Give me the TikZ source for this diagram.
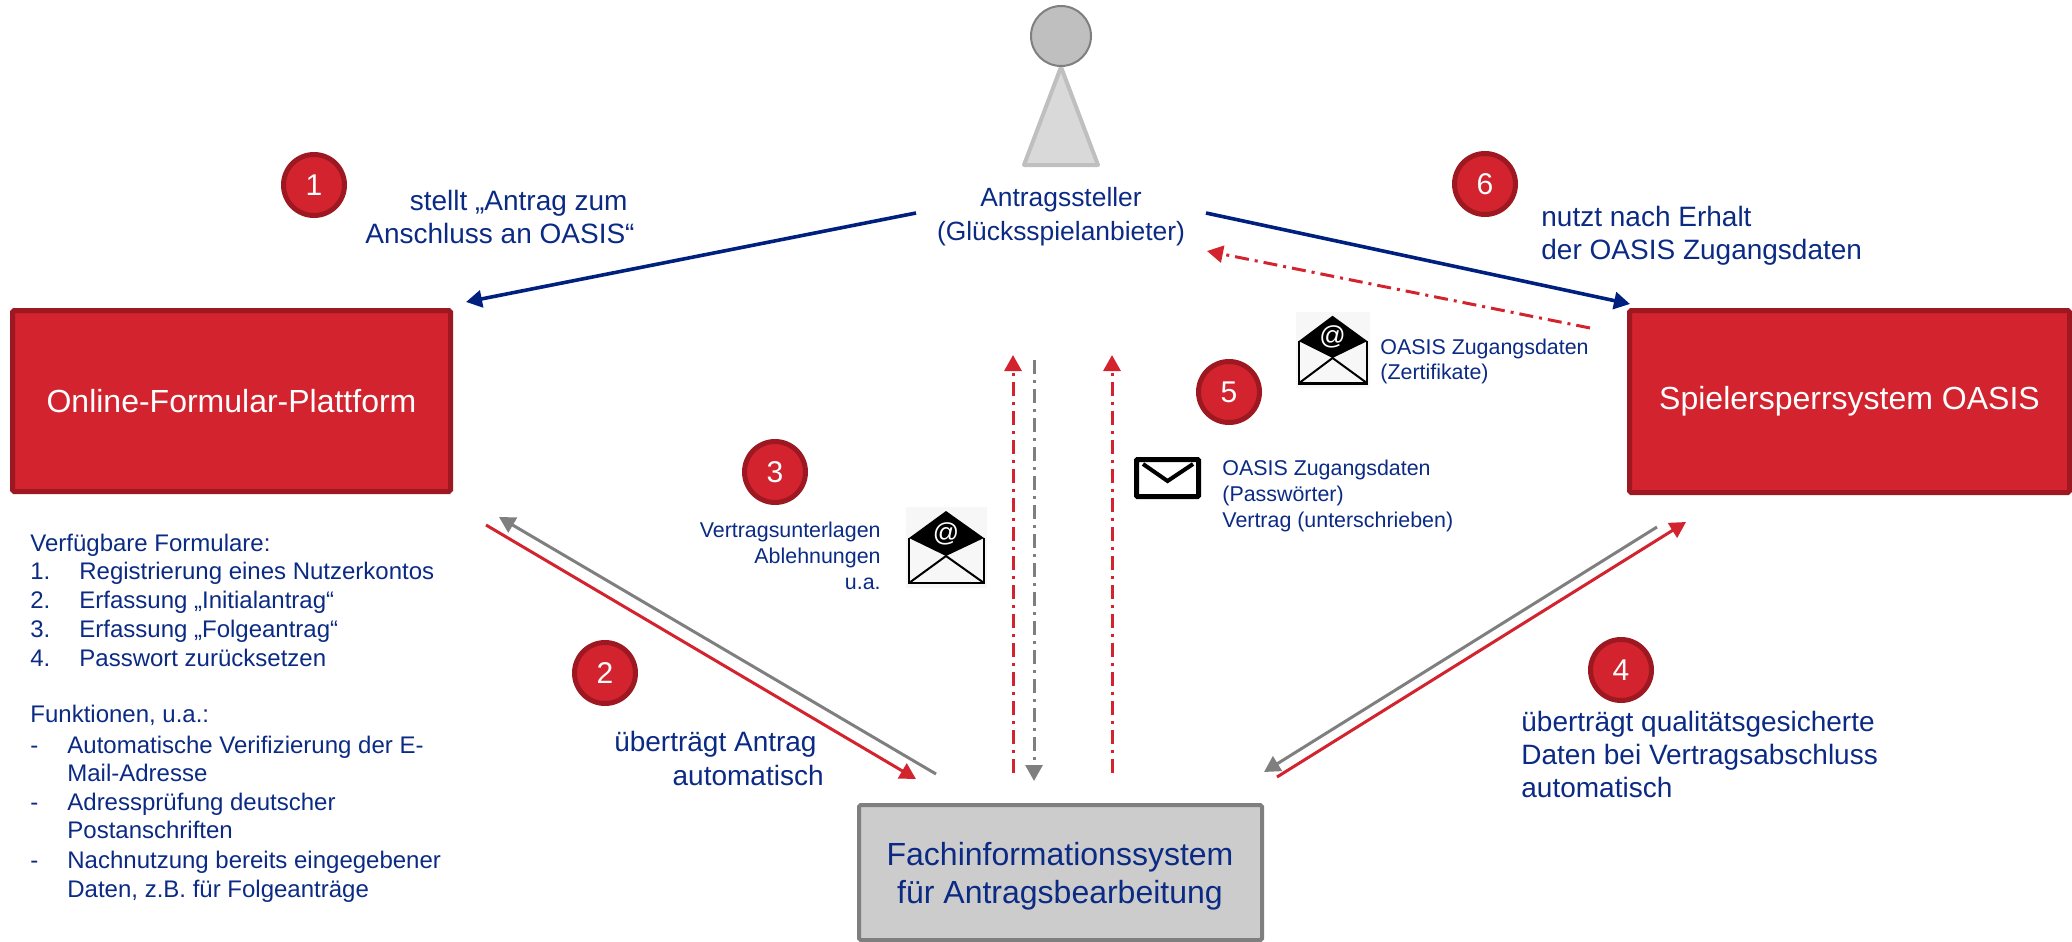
\documentclass[tikz,border=0pt]{standalone}
\usepackage{fontspec}
\setmainfont{Liberation Sans}
\usetikzlibrary{arrows.meta}
\definecolor{navy}{HTML}{00207F}
\definecolor{txtblue}{HTML}{0B2A84}
\definecolor{oasisred}{HTML}{D2232E}
\definecolor{darkred}{HTML}{9E1822}
\definecolor{midgray}{HTML}{7F7F7F}
\newcommand\fsz[1]{\fontsize{#1}{#1}\selectfont}
\newcommand\openmail[6]{% name, left, top, width, height, @ size
  \begin{scope}[shift={(#2,#3)},x=#4*0.5pt/81,y=-#5*0.5pt/81]
    \fill[mailbg] (0,0) rectangle (81,81);
    \draw[line width=1.2pt,line join=miter] (3,31) -- (3,76) -- (78,76) -- (78,31);
    \draw[line width=1pt] (3,76) -- (40,49) -- (78,76);
    \fill (40,4) -- (78,31) -- (40,49) -- (3,31) -- cycle;
    \node[inner sep=0pt,text=white,font=\fsz{#6}] (#1) at (40,27) {@};
  \end{scope}}
\tikzset{
  x=0.5pt,y=-0.5pt,
  redbox/.style={draw=darkred,fill=oasisred,line width=2.5pt,rounded corners=0.8pt,inner sep=0pt,text=white,font=\fsz{16},align=center},
  graybox/.style={draw=midgray,fill=black!20,line width=2pt,rounded corners=0.8pt,inner sep=0pt},
  badge/.style={circle,draw=darkred,fill=oasisred,line width=2.5pt,minimum size=30.5pt,inner sep=0pt,text=white,font=\fsz{15}},
  lbl/.style={inner sep=0pt,text=txtblue,font=\fsz{14},align=left,yshift=-1.5pt},
  actorlbl/.style={inner sep=0pt,text=txtblue,font=\fsz{13.2},anchor=mid,yshift=-1pt},
  small/.style={inner sep=0pt,text=txtblue,font=\fsz{10.7},align=left,yshift=-1.2pt},
  listitem/.style={inner sep=0pt,text=txtblue,font=\fsz{12},anchor=mid west,yshift=-1.5pt},
  tip/.style={-{Triangle[length=8pt,width=8.5pt]}},
  navyline/.style={tip,draw=navy,line width=1.8pt},
  redline/.style={tip,draw=oasisred,line width=1.5pt},
  grayline/.style={tip,draw=midgray,line width=1.5pt},
  dashdot/.style={dash pattern=on 7pt off 3pt on 1.5pt off 3pt},
  mailbg/.style={fill={rgb,255:red,247;green,247;blue,247}},
}
\begin{document}
\begin{tikzpicture}
\useasboundingbox (0,0) rectangle (2072,942);

% actor
\filldraw[draw=black!25,fill=black!15,line width=2pt,line join=round] (1061,67) -- (1098,165) -- (1024,165) -- cycle;
\node[circle,draw=midgray,fill=black!25,line width=1pt,minimum size=30pt,inner sep=0pt] (head) at (1061,36) {};
\node[actorlbl] (actor1) at (1061,199) {Antragssteller};
\node[actorlbl] (actor2) at (1061,233) {(Glücksspielanbieter)};

% boxes
\node[redbox,minimum width=219pt,minimum height=90.5pt] (portal) at (231.5,401) {Online-Formular-Plattform};
\node[redbox,minimum width=220pt,minimum height=91pt] (oasis) at (1849.5,401.5) {Spielersperrsystem OASIS};
\node[graybox,minimum width=201.5pt,minimum height=67.5pt] (fis) at (1060.5,872.5) {};
\node[inner sep=0pt,text=txtblue,font=\fsz{16},anchor=mid] (fis1) at (1060,860) {Fachinformationssystem};
\node[inner sep=0pt,text=txtblue,font=\fsz{16},anchor=mid] (fis2) at (1060,898) {für Antragsbearbeitung};

% connector ends
\coordinate (a1s) at (916,213);   \coordinate (a1e) at (466,302);
\coordinate (a6s) at (1206,213);  \coordinate (a6e) at (1630,304);
\coordinate (r6s) at (1590,328);  \coordinate (r6e) at (1207,251);
\coordinate (r2s) at (486,525);   \coordinate (r2e) at (916,779);
\coordinate (g2s) at (936,774);   \coordinate (g2e) at (499,517);
\coordinate (r4s) at (1277,777);  \coordinate (r4e) at (1686,522);
\coordinate (g4s) at (1657,527);  \coordinate (g4e) at (1264,772);
\coordinate (v1s) at (1013,773);  \coordinate (v1e) at (1013,355);
\coordinate (v2s) at (1112,773);  \coordinate (v2e) at (1112,355);
\coordinate (v3s) at (1034,360);  \coordinate (v3e) at (1034,781);

\draw[navyline] (a1s) -- (a1e);
\draw[navyline] (a6s) -- (a6e);
\draw[redline,dashdot] (r6s) -- (r6e);
\draw[redline] (r2s) -- (r2e);
\draw[grayline] (g2s) -- (g2e);
\draw[redline] (r4s) -- (r4e);
\draw[grayline] (g4s) -- (g4e);
\draw[redline,dashdot] (v1s) -- (v1e);
\draw[redline,dashdot] (v2s) -- (v2e);
\draw[grayline,dashdot] (v3s) -- (v3e);

% badges
\node[badge] (b1) at (314,185) {1};
\node[badge] (b2) at (605,673) {2};
\node[badge] (b3) at (775,472) {3};
\node[badge] (b4) at (1621,670) {4};
\node[badge] (b5) at (1229,392) {5};
\node[badge] (b6) at (1485,184) {6};

% labels
\node[lbl,anchor=mid east] (t1a) at (628,202) {stellt „Antrag zum};
\node[lbl,anchor=mid east] (t1b) at (635,235) {Anschluss an OASIS“};
\node[lbl,anchor=mid west] (t6a) at (1541,218) {nutzt nach Erhalt};
\node[lbl,anchor=mid west] (t6b) at (1541,251) {der OASIS Zugangsdaten};
\node[lbl,anchor=mid east] (t2a) at (817,743) {überträgt Antrag};
\node[lbl,anchor=mid east] (t2b) at (824,777) {automatisch};
\node[lbl,anchor=mid west] (t4a) at (1521,723) {überträgt qualitätsgesicherte};
\node[lbl,anchor=mid west] (t4b) at (1521,756) {Daten bei Vertragsabschluss};
\node[lbl,anchor=mid west] (t4c) at (1521,789) {automatisch};
\node[small,anchor=mid east] (t3a) at (881,530) {Vertragsunterlagen};
\node[small,anchor=mid east] (t3b) at (881,556) {Ablehnungen};
\node[small,anchor=mid east] (t3c) at (881,582) {u.a.};
\node[small,anchor=mid west] (t5a) at (1380,347) {OASIS Zugangsdaten};
\node[small,anchor=mid west] (t5b) at (1380,372) {(Zertifikate)};
\node[small,anchor=mid west] (t5c) at (1222,468) {OASIS Zugangsdaten};
\node[small,anchor=mid west] (t5d) at (1222,494) {(Passwörter)};
\node[small,anchor=mid west] (t5e) at (1222,520) {Vertrag (unterschrieben)};

% mail icons
\openmail{at1}{906}{507}{81}{81}{13}
\openmail{at2}{1296}{312}{74}{76}{13}
\node[draw=black,fill=white,line width=2.5pt,minimum width=31pt,minimum height=18.5pt,inner sep=0pt,rounded corners=0.5pt] (closedmail) at (1167.5,478) {};
\draw[line width=2pt,line join=miter] (1143,464) -- (1167.5,481) -- (1193,464);

% form list
\node[listitem] (l0) at (30,543) {Verfügbare Formulare:};
\node[listitem] (l1n) at (30,571) {1.};
\node[listitem] (l1) at (79,571) {Registrierung eines Nutzerkontos};
\node[listitem] (l2n) at (30,600) {2.};
\node[listitem] (l2) at (79,600) {Erfassung „Initialantrag“};
\node[listitem] (l3n) at (30,629) {3.};
\node[listitem] (l3) at (79,629) {Erfassung „Folgeantrag“};
\node[listitem] (l4n) at (30,658) {4.};
\node[listitem] (l4) at (79,658) {Passwort zurücksetzen};
\node[listitem] (f0) at (30,714) {Funktionen, u.a.:};
\node[listitem] (f1n) at (30,745) {-};
\node[listitem] (f1) at (67,745) {Automatische Verifizierung der E-};
\node[listitem] (f1b) at (67,773) {Mail-Adresse};
\node[listitem] (f2n) at (30,802) {-};
\node[listitem] (f2) at (67,802) {Adressprüfung deutscher};
\node[listitem] (f2b) at (67,830) {Postanschriften};
\node[listitem] (f3n) at (30,860) {-};
\node[listitem] (f3) at (67,860) {Nachnutzung bereits eingegebener};
\node[listitem] (f3b) at (67,889) {Daten, z.B. für Folgeanträge};
\end{tikzpicture}
\end{document}
